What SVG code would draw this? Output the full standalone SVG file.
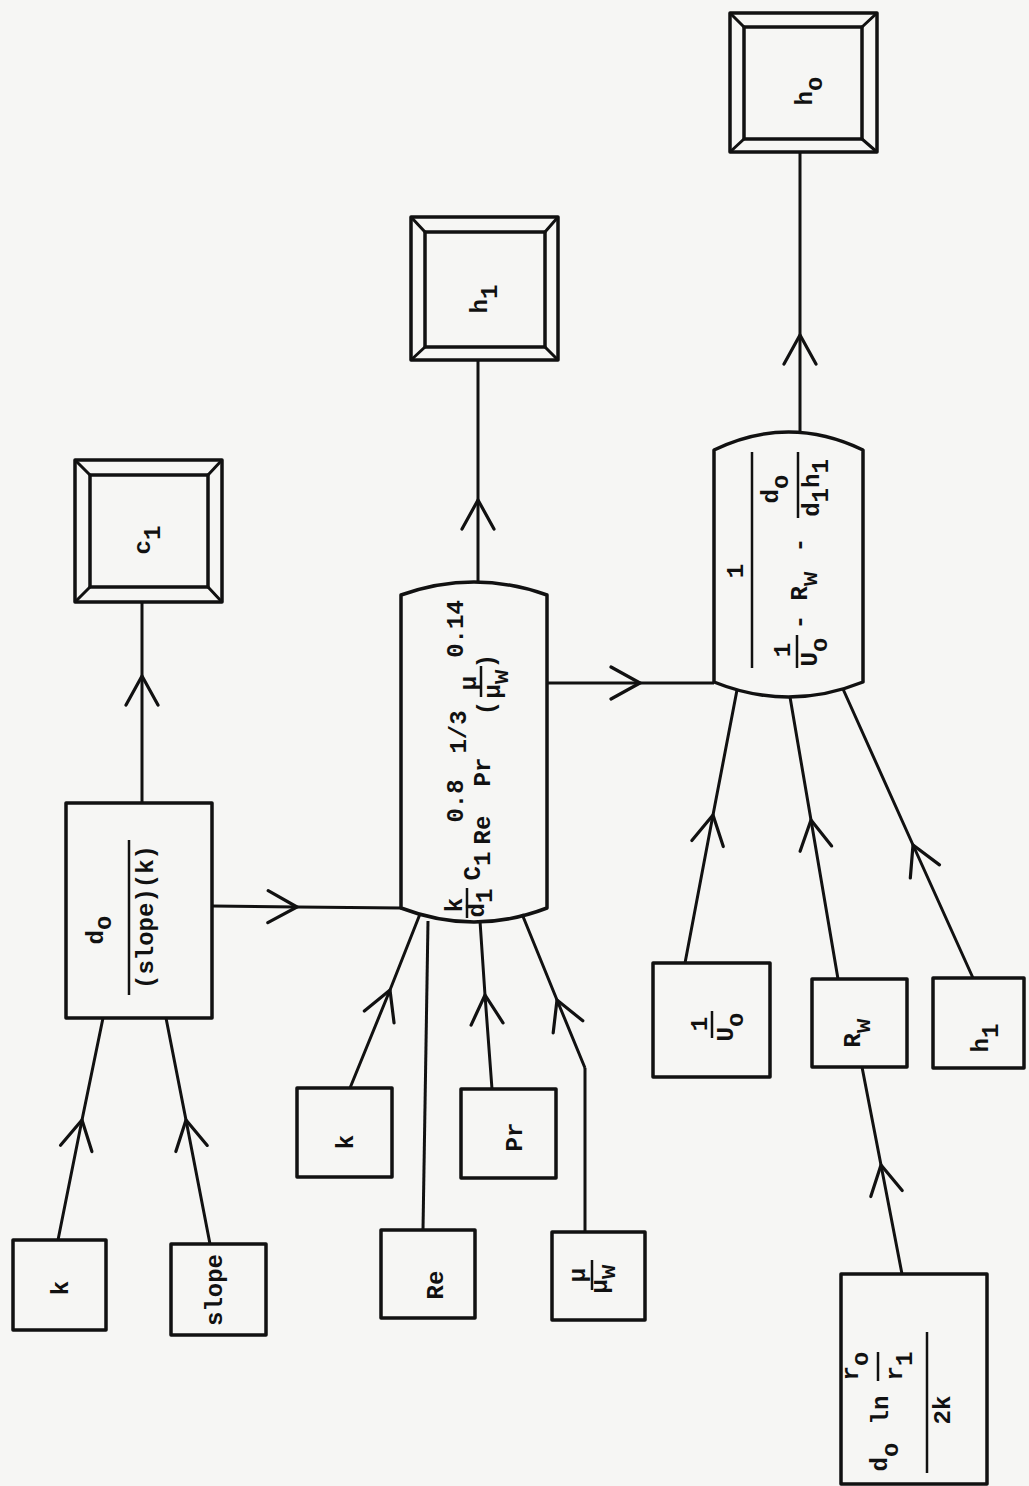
<svg xmlns="http://www.w3.org/2000/svg" width="1029" height="1486" viewBox="0 0 1029 1486">
<style>
.bx{fill:none;stroke:#111;stroke-width:3.5;stroke-linejoin:round}
.ln{fill:none;stroke:#111;stroke-width:3}
.fr{fill:none;stroke:#111;stroke-width:2.5}
.ar{marker-mid:url(#chev)}
.t{font-family:"Liberation Mono","DejaVu Sans Mono",monospace;font-size:24px;font-weight:bold;fill:#111;text-anchor:middle}
</style>
<defs>
<marker id="chev" viewBox="-32 -19 35 38" markerWidth="35" markerHeight="38" refX="0" refY="0" orient="auto" markerUnits="userSpaceOnUse">
<path d="M-29,-16 L0,0 L-29,16" fill="none" stroke="#111" stroke-width="3.2" stroke-linecap="round"/>
</marker>
</defs>
<rect width="1029" height="1486" fill="#f6f6f4"/>

<g id="connectors">
<path class="ln ar" d="M58,1240 L82,1120 L103,1018"/>
<path class="ln ar" d="M210,1244 L186,1120 L166,1018"/>
<path class="ln ar" d="M142,803 L142,676 L142,602"/>
<path class="ln ar" d="M212,906 L297,907 L401,908"/>
<path class="ln ar" d="M350,1088 L390,990 L420,914"/>
<path class="ln" d="M423,1230 L428,921"/>
<path class="ln ar" d="M492,1089 L485,995 L480,921"/>
<path class="ln" d="M585,1232 L585,1068"/>
<path class="ln ar" d="M585,1068 L557,1000 L522,914"/>
<path class="ln ar" d="M478,582 L478,500 L478,360"/>
<path class="ln ar" d="M547,683 L640,683 L714,683"/>
<path class="ln ar" d="M685,963 L713,815 L737,690"/>
<path class="ln ar" d="M838,979 L811,820 L790,697"/>
<path class="ln ar" d="M973,978 L913,845 L843,689"/>
<path class="ln ar" d="M902,1274 L881,1165 L862,1067"/>
<path class="ln ar" d="M800,432 L800,335 L800,152"/>
</g>

<g id="n-k1">
<rect class="bx" x="13" y="1240" width="93" height="90"/>
<text class="t" transform="translate(68,1288) rotate(-90)">k</text>
</g>
<g id="n-slope">
<rect class="bx" x="171" y="1244" width="95" height="91"/>
<text class="t" transform="translate(222,1290) rotate(-90)">slope</text>
</g>
<g id="n-dslope">
<rect class="bx" x="66" y="803" width="146" height="215"/>
<text class="t" transform="translate(103,930) rotate(-90)">d<tspan dy="8">o</tspan></text>
<line class="fr" x1="129" y1="840" x2="129" y2="995"/>
<text class="t" transform="translate(153,917) rotate(-90)">(slope)(k)</text>
</g>
<g id="n-c1">
<rect class="bx" x="75" y="460" width="147" height="142"/>
<rect class="bx" x="90" y="475" width="118" height="112"/>
<path class="ln" d="M75,460 L90,475 M222,460 L208,475 M75,602 L90,587 M222,602 L208,587"/>
<text class="t" transform="translate(150,540) rotate(-90)">c<tspan dy="10">1</tspan></text>
</g>
<g id="n-h1">
<rect class="bx" x="411" y="217" width="147" height="143"/>
<rect class="bx" x="425" y="232" width="120" height="115"/>
<path class="ln" d="M411,217 L425,232 M558,217 L545,232 M411,360 L425,347 M558,360 L545,347"/>
<text class="t" transform="translate(487,299) rotate(-90)">h<tspan dy="10">1</tspan></text>
</g>
<g id="n-h0">
<rect class="bx" x="730" y="13" width="147" height="139"/>
<rect class="bx" x="744" y="27" width="118" height="112"/>
<path class="ln" d="M730,13 L744,27 M877,13 L862,27 M730,152 L744,139 M877,152 L862,139"/>
<text class="t" transform="translate(812,91) rotate(-90)">h<tspan dy="10">o</tspan></text>
</g>
<g id="n-hi-formula">
<path class="bx" d="M401,595 Q474,569 547,595 L547,908 Q474,936 401,908 Z"/>
<text class="t" transform="translate(462,905) rotate(-90)">k</text>
<line class="fr" x1="467" y1="888" x2="467" y2="918"/>
<text class="t" transform="translate(484,903) rotate(-90)">d<tspan dy="8">1</tspan></text>
<text class="t" transform="translate(480,866) rotate(-90)">C<tspan dy="10">1</tspan></text>
<text class="t" transform="translate(490,830) rotate(-90)">Re</text>
<text class="t" transform="translate(463,801) rotate(-90)">0.8</text>
<text class="t" transform="translate(490,772) rotate(-90)">Pr</text>
<text class="t" transform="translate(466,732) rotate(-90)">1/3</text>
<text class="t" transform="translate(494,708) rotate(-90)">(</text>
<text class="t" transform="translate(476,683) rotate(-90)">μ</text>
<line class="fr" x1="481" y1="666" x2="481" y2="697"/>
<text class="t" transform="translate(500,684) rotate(-90)">μ<tspan dy="8">w</tspan></text>
<text class="t" transform="translate(494,661) rotate(-90)">)</text>
<text class="t" transform="translate(463,629) rotate(-90)">0.14</text>
</g>
<g id="n-ho-formula">
<path class="bx" d="M714,450 Q788.5,414 863,450 L863,682 Q788.5,712 714,682 Z"/>
<text class="t" transform="translate(743,571) rotate(-90)">1</text>
<line class="fr" x1="752" y1="452" x2="752" y2="668"/>
<text class="t" transform="translate(790,650) rotate(-90)">1</text>
<line class="fr" x1="797" y1="635" x2="797" y2="668"/>
<text class="t" transform="translate(817,652) rotate(-90)">U<tspan dy="10">o</tspan></text>
<text class="t" transform="translate(807,622) rotate(-90)">-</text>
<text class="t" transform="translate(807,586) rotate(-90)">R<tspan dy="10">w</tspan></text>
<text class="t" transform="translate(807,545) rotate(-90)">-</text>
<text class="t" transform="translate(778,489) rotate(-90)">d<tspan dy="10">o</tspan></text>
<line class="fr" x1="798" y1="452" x2="798" y2="518"/>
<text class="t" transform="translate(819,488) rotate(-90)">d<tspan dy="9">1</tspan><tspan dy="-9">h</tspan><tspan dy="9">1</tspan></text>
</g>
<g id="n-k2">
<rect class="bx" x="297" y="1088" width="95" height="89"/>
<text class="t" transform="translate(353,1142) rotate(-90)">k</text>
</g>
<g id="n-re">
<rect class="bx" x="381" y="1230" width="94" height="88"/>
<text class="t" transform="translate(443,1285) rotate(-90)">Re</text>
</g>
<g id="n-pr">
<rect class="bx" x="461" y="1089" width="95" height="89"/>
<text class="t" transform="translate(522,1137) rotate(-90)">Pr</text>
</g>
<g id="n-mu">
<rect class="bx" x="552" y="1232" width="93" height="88"/>
<text class="t" transform="translate(585,1275) rotate(-90)">μ</text>
<line class="fr" x1="592" y1="1260" x2="592" y2="1290"/>
<text class="t" transform="translate(607,1279) rotate(-90)">μ<tspan dy="8">w</tspan></text>
</g>
<g id="n-uo">
<rect class="bx" x="653" y="963" width="117" height="114"/>
<text class="t" transform="translate(707,1024) rotate(-90)">1</text>
<line class="fr" x1="712" y1="1011" x2="712" y2="1038"/>
<text class="t" transform="translate(733,1027) rotate(-90)">U<tspan dy="10">o</tspan></text>
</g>
<g id="n-rw">
<rect class="bx" x="812" y="979" width="95" height="88"/>
<text class="t" transform="translate(860,1033) rotate(-90)">R<tspan dy="10">w</tspan></text>
</g>
<g id="n-h1in">
<rect class="bx" x="933" y="978" width="91" height="90"/>
<text class="t" transform="translate(988,1038) rotate(-90)">h<tspan dy="10">1</tspan></text>
</g>
<g id="n-rwcalc">
<rect class="bx" x="841" y="1274" width="146" height="210"/>
<text class="t" transform="translate(887,1457) rotate(-90)">d<tspan dy="11">o</tspan></text>
<text class="t" transform="translate(888,1410) rotate(-90)">ln</text>
<text class="t" transform="translate(858,1366) rotate(-90)">r<tspan dy="10">o</tspan></text>
<line class="fr" x1="878" y1="1352" x2="878" y2="1381"/>
<text class="t" transform="translate(902,1366) rotate(-90)">r<tspan dy="10">1</tspan></text>
<line class="fr" x1="927" y1="1332" x2="927" y2="1473"/>
<text class="t" transform="translate(950,1410) rotate(-90)">2k</text>
</g>
</svg>
